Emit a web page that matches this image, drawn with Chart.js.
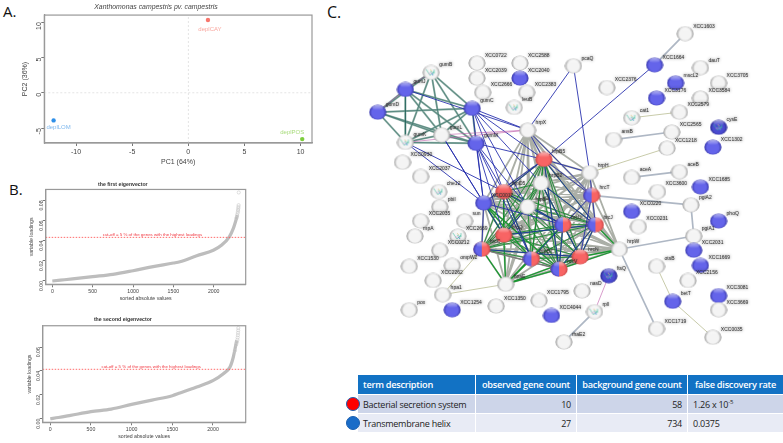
<!DOCTYPE html>
<html>
<head>
<meta charset="utf-8">
<script src="https://cdn.jsdelivr.net/npm/chart.js@4/dist/chart.umd.min.js"></script>
<style>
    html, body {margin: 0; padding: 0; background: #fff; width: 783px; height: 443px; overflow: hidden;}
    canvas {position: absolute; filter: blur(0.35px);}
    .letter {position: absolute; font-family: "Open Sans"; color: #111; line-height: 1;}
    .circle {position: absolute; width: 14px; height: 14px; border-radius: 50%; border: 1px solid #1a5fb0; box-sizing: border-box;}
    table {position: absolute; left: 357px; top: 374px; width: 423px; height: 59px; border-collapse: separate; border-spacing: 1px;
        font-family: "Open Sans"; font-size: 9px; letter-spacing: -0.25px; table-layout: fixed; color: #222;}
    th {background: #1272c4; color: #fff; font-weight: 600; font-size: 9.2px; padding: 0 5px; height: 19px; text-align: left; white-space: nowrap;}
    th.c {text-align: center; padding: 0;}
    td {padding: 0 5px; white-space: nowrap;}
    tr.odd td {background: #cdd5e9;}
    tr.even td {background: #e8ebf5;}
    td.n {text-align: right;}
    sup {font-size: 6px; line-height: 0;}
</style>
</head>
<body>
<div class="letter" style="left:3px;top:4px;font-size:15px">A.</div>
<div class="letter" style="left:9px;top:182px;font-size:15px">B.</div>
<div class="letter" style="left:327px;top:4px;font-size:16px">C.</div>
<canvas id="pcaChart" style="left:0;top:0" width="330" height="172"></canvas>
<canvas id="firstChart" style="left:0;top:177px" width="260" height="133"></canvas>
<canvas id="secondChart" style="left:0;top:312px" width="260" height="131"></canvas>
<canvas id="networkChart" style="left:340px;top:0" width="443" height="368"></canvas>
<table id="termTable"></table>
<div class="circle" style="left:346px;top:397px;background:#f00"></div>
<div class="circle" style="left:346px;top:416px;background:#1a6cc8"></div>
<script>
// PCA
const sampleNames = ['deplCAY', 'deplLOM', 'deplPOS'];
const samplePC1 = [1.75, -12.0, 10.15];
const samplePC2 = [10.3, -3.9, -6.55];
const sampleColors = ['#f8766d', '#2e8fe8', '#7ccd3c'];
const sampleLabelColors = ['#f9a79f', '#7fb8ee', '#a9dc7c'];

// loadings
const firstIndex = [0, 100, 250, 500, 750, 1000, 1250, 1500, 1581, 1789, 1995, 2099, 2193, 2243, 2276, 2293];
const firstValue = [0, 0.0008, 0.002, 0.0043, 0.0066, 0.0102, 0.0142, 0.0178, 0.0191, 0.0251, 0.0305, 0.0357, 0.0439, 0.0522, 0.0605, 0.0654];
const firstTailIndex = [2280, 2290, 2296, 2300, 2302, 2304, 2306, 2308, 2310];
const firstTailValue = [0.0625, 0.0655, 0.0674, 0.069, 0.0705, 0.072, 0.0735, 0.0753, 0.0879];
const firstCutoff = 0.0433;
const secondIndex = [0, 100, 250, 500, 750, 1000, 1250, 1500, 1594, 1800, 2004, 2127, 2209, 2250, 2271, 2291];
const secondValue = [0, 0.001, 0.0028, 0.0059, 0.0081, 0.012, 0.0156, 0.0193, 0.0215, 0.0265, 0.0321, 0.0377, 0.0433, 0.0517, 0.0586, 0.0656];
const secondTailIndex = [2270, 2285, 2295, 2300, 2303, 2306, 2308, 2310, 2311];
const secondTailValue = [0.057, 0.062, 0.064, 0.066, 0.068, 0.07, 0.072, 0.074, 0.076];
const secondCutoff = 0.0414;

// network, nodes
const nodeNames = ['gumB', 'gumJ', 'gumD', 'gumC', 'gumL', 'gumK', 'gumM', 'XCC0722', 'XCC2039', 'XCC2666', 'XCC2588', 'XCC2040', 'XCC2383', 'leuB', 'hrpX', 'hrpB5', 'XCC0930', 'XCC2037', 'pcaQ',
    'XCC1603', 'XCC1664', 'dauT', 'mscL2', 'XCC3705', 'XCC2376', 'XCC3176', 'XCC3584', 'XCC2579', 'cat1', 'cysE', 'XCC2565', 'ansB', 'XCC1218', 'XCC1302', 'hrpH', 'aceB', 'aceA',
    'XCC3600', 'XCC1685', 'pgiA2', 'XCC0220', 'phoQ', 'XCC0231', 'pgiA1', 'hrcT', 'hrcJ', 'hrpW', 'hrcN', 'XCC2031', 'XCC1669', 'otsB', 'XCC2156', 'ftsQ', 'nasD', 'betT', 'XCC3081', 'XCC3669', 'rpll', 'XCC1719', 'XCC0035', 'rhaE2',
    'che12', 'pbil', 'XCC0017', 'hrpD5', 'hrpB2', 'XCC2035', 'rnpA', 'sun', 'XCC2669', 'hrcQ', 'hrcU', 'hrcC', 'hrpB7', 'hrcV', 'hrpB4', 'XCC0212', 'XCC1530', 'ompW2', 'XCC2262', 'hpa1', 'hpaE', 'XCC1254', 'pox', 'XCC1350', 'XCC1795', 'XCC4044'];
const nodeX = [425, 398, 369, 468, 436, 398, 472, 473, 473, 479, 518, 518, 525, 512, 526, 543, 395, 414, 574,
    691, 659, 707, 681, 726, 609, 661, 707, 685, 635, 726, 677, 616, 672, 720, 591, 685, 635,
    662, 707, 697, 635, 726, 642, 700, 593, 597, 622, 581, 700, 707, 661, 694, 611, 583, 678, 726, 726, 596, 661, 720, 564,
    433, 434, 480, 501, 540, 414, 408, 460, 453, 501, 563, 478, 530, 559, 526, 434, 402, 447, 427, 437, 503, 447, 402, 493, 538, 551];
const nodeY = [66, 84, 108, 104, 132, 140, 141, 56, 72, 87, 56, 72, 87, 103, 127, 158, 161, 176, 59,
    25, 58, 61, 77, 77, 82, 93, 93, 108, 114, 124, 129, 137, 146, 145, 172, 171, 177,
    192, 187, 206, 213, 223, 229, 239, 196, 227, 253, 261, 254, 270, 271, 286, 281, 297, 308, 302, 317, 319, 337, 346, 351,
    192, 208, 204, 192, 183, 223, 239, 223, 239, 238, 227, 253, 263, 274, 208, 254, 271, 270, 286, 301, 290, 317, 317, 313, 307, 323];
const nodeKinds = ['t', 'b', 'b', 'b', 'w', 't', 'b', 'w', 'w', 'w', 'w', 'b', 'w', 't', 'w', 'r', 'w', 'w', 'w',
    'w', 'b', 'w', 'b', 'w', 'w', 'b', 'w', 'w', 't', 'c', 'w', 'w', 'w', 'b', 'w', 'w', 'w',
    'w', 'b', 'w', 'b', 'b', 'w', 'w', 'h', 'h', 'w', 'r', 'b', 'b', 'w', 'w', 'c', 'w', 'b', 'b', 'w', 't', 'w', 'w', 'w',
    't', 'w', 'b', 'r', 'w', 'w', 'w', 'w', 't', 'r', 'h', 'h', 'h', 'h', 'w', 'w', 'w', 'w', 'w', 'w', 'w', 'b', 'w', 'w', 'w', 'b'];

// network, edges
const gumGroup = ['gumB', 'gumJ', 'gumD', 'gumC', 'gumL', 'gumK', 'gumM'];
const hrpGroup = ['hrpX', 'hrpB5', 'hrpB2', 'hrpH', 'hrcT', 'hrpD5', 'XCC0017', 'hrpB4', 'hrcU', 'hrcJ', 'hrcQ', 'hrcC', 'hrpB7', 'hrcN', 'hrcV', 'hrpW', 'hpaE'];
const greenGroup = ['hrpB5', 'hrpD5', 'hrpB2', 'hrpB4', 'hrcU', 'hrcJ', 'hrcQ', 'hrcC', 'hrpB7', 'hrcN', 'hrcV'];
const greenEdges = [['hrcQ', 'hpaE'], ['hrpB7', 'hpaE'], ['hrcV', 'hpaE'], ['hrcC', 'hpaE'], ['hrcN', 'hpaE'], ['hrcU', 'hpaE'], ['hrcN', 'hrpW'], ['hrcV', 'hrpW'], ['hrcJ', 'hrpW'], ['XCC0017', 'hrcV'], ['XCC0017', 'hrpB7'], ['XCC0017', 'hrcQ']];
const blueEdges = [['hrpB5', 'hrcJ'], ['hrpB5', 'hrcV'], ['hrpB5', 'hrpD5'], ['hrpB5', 'XCC0017'], ['hrpB5', 'hrpH'], ['hrpB2', 'hrcJ'], ['hrpB2', 'hrcN'], ['hrpB4', 'hrcU'], ['hrpB4', 'hrcQ'], ['hrcU', 'hrcV'], ['hrcJ', 'hrcN'], ['hrcJ', 'hrcV'], ['hrcT', 'hrcN'], ['hrcT', 'hrpB7'], ['hrcT', 'hrpB5'], ['hrpD5', 'hrcU'], ['hrpD5', 'hrpB7'], ['hrcC', 'hrcN'], ['hrcQ', 'hrcJ'], ['XCC0017', 'hrcC'], ['XCC0017', 'hrcU'], ['gumM', 'hrpB5'], ['gumC', 'hrpB5'], ['gumJ', 'hrpX'], ['gumC', 'hrpX'], ['hrpB5', 'hrpX'], ['gumM', 'hrpD5'], ['gumM', 'XCC0017'], ['gumM', 'hrcQ'], ['gumM', 'hrpB4'], ['gumM', 'hrpB7'], ['gumC', 'hrpD5'], ['gumC', 'hrpB2'], ['gumC', 'XCC0017'], ['gumK', 'XCC0017'], ['gumK', 'hrpD5'], ['gumL', 'XCC0017'], ['gumL', 'hrcQ'], ['gumC', 'hrpB4'], ['hrpX', 'pcaQ'], ['pcaQ', 'hrpH'], ['hrpB5', 'XCC1664'], ['hrpH', 'hrcJ'], ['hrpX', 'hrcT']];
const pinkEdges = [['gumK', 'hrpX'], ['gumL', 'hrpX'], ['gumJ', 'gumB'], ['gumD', 'gumJ'], ['hrcC', 'hrcV'], ['ftsQ', 'rpll']];
const thickEdges = [['XCC1603', 'XCC1664'], ['ansB', 'XCC2565'], ['aceA', 'aceB'], ['pgiA2', 'pgiA1'], ['pgiA1', 'hrpW'], ['hrpW', 'XCC1719'], ['rpll', 'rhaE2'], ['hrcT', 'pgiA2']];
const thinEdges = [['cat1', 'XCC2579'], ['otsB', 'betT'], ['betT', 'XCC0035'], ['hpaE', 'hpa1'], ['hrcC', 'hpa1'], ['XCC1218', 'hrpH']];

// table
const termNames = ['Bacterial secretion system', 'Transmembrane helix'];
const observedCounts = [10, 27];
const backgroundCounts = [58, 734];
const fdrValues = ['1.26 x 10<sup>-5</sup>', '0.0375'];
const tableHeaders = ['term description', 'observed gene count', 'background gene count', 'false discovery rate'];

const sansFont = '"Liberation Sans"';

// text marks drawn through the chart's own scales
const textMarks = {
    id: 'textMarks',
    afterDatasetsDraw(chart, args, opts) {
        const {ctx, scales: {x, y}} = chart;
        ctx.save();
        (opts.items || []).forEach(item => {
            ctx.font = `${item.size}px ${sansFont}`;
            ctx.fillStyle = item.color || '#222';
            ctx.textAlign = item.align || 'center';
            ctx.textBaseline = 'middle';
            if (item.halo) {
                ctx.shadowColor = 'rgba(0,0,0,0.7)';
                ctx.shadowBlur = 3;
            } else {
                ctx.shadowBlur = 0;
            }
            ctx.fillText(item.text, x.getPixelForValue(item.x) + (item.dx || 0), y.getPixelForValue(item.y) + (item.dy || 0));
        });
        ctx.restore();
    }
};
Chart.register(textMarks);

// closes the R box on the top and right
const boxPlugin = {
    id: 'boxPlugin',
    afterDraw(chart) {
        const {ctx, chartArea: a} = chart;
        ctx.save();
        ctx.strokeStyle = '#999';
        ctx.lineWidth = 1.2;
        ctx.strokeRect(a.left, a.top, a.right - a.left, a.bottom - a.top);
        ctx.restore();
    }
};

const axisColor = '#444';

function rAxes(o) {
    // R style box, outward ticks
    const grid = {drawOnChartArea: false, drawTicks: true, tickLength: 3, color: '#777'};
    return {
        x: {
            type: 'linear', min: o.xmin, max: o.xmax,
            afterFit: s => { s.height = o.bottom; },
            afterBuildTicks: s => { s.ticks = o.xticks.map(v => ({value: v})); },
            grid: grid, border: {color: '#999', width: 1.2},
            ticks: {color: axisColor, font: {size: o.font, family: sansFont}, padding: o.xpad, maxRotation: 0, autoSkip: false, callback: v => v},
            title: {display: true, text: o.xtitle, color: axisColor, font: {size: o.font, family: sansFont}, padding: {top: 0, bottom: o.xtitlePad}}
        },
        y: {
            type: 'linear', min: o.ymin, max: o.ymax,
            afterFit: s => { s.width = o.left; },
            afterBuildTicks: s => { s.ticks = o.yticks.map(v => ({value: v})); },
            grid: grid, border: {color: '#999', width: 1.2},
            ticks: {color: axisColor, font: {size: o.font, family: sansFont}, padding: o.ypad, minRotation: 90, maxRotation: 90, autoSkip: false, callback: o.yformat},
            title: {display: true, text: o.ytitle, color: axisColor, font: {size: o.font, family: sansFont}, padding: {top: o.ytitlePad, bottom: 0}}
        }
    };
}

// first dataset in the list is painted on top
new Chart(document.getElementById('pcaChart'), {
    type: 'scatter',
    plugins: [boxPlugin],
    data: {
        datasets: [
            {data: samplePC1.map((x, i) => ({x: x, y: samplePC2[i]})), pointBackgroundColor: sampleColors, pointBorderWidth: 0, pointRadius: 2.2},
            {data: [{x: -12.83, y: 0}, {x: 11.02, y: 0}], showLine: true, borderColor: '#ddd', borderWidth: 0.8, borderDash: [2, 2], pointRadius: 0},
            {data: [{x: 0, y: -7.1}, {x: 0, y: 11}], showLine: true, borderColor: '#ddd', borderWidth: 0.8, borderDash: [2, 2], pointRadius: 0}
        ]
    },
    options: {
        responsive: false, animation: false,
        layout: {padding: {right: 18}},
        plugins: {
            legend: {display: false}, tooltip: {enabled: false},
            title: {display: true, text: 'Xanthomonas campestris pv. campestris', color: '#444', font: {size: 6.9, style: 'italic', weight: 'normal', family: sansFont}, padding: {top: 3, bottom: 3.8}},
            textMarks: {
                items: sampleNames.map((name, i) => ({
                    text: name, x: samplePC1[i], y: samplePC2[i], size: 6, color: sampleLabelColors[i],
                    dx: [2, 5, -10][i], dy: [9, 7, -7][i]
                }))
            }
        },
        scales: rAxes({
            xmin: -12.83, xmax: 11.02, ymin: -7.1, ymax: 11,
            xticks: [-10, -5, 0, 5, 10], yticks: [-5, 0, 5, 10],
            left: 44.3, bottom: 29, font: 7, xpad: 2, ypad: 2, xtitlePad: 6, ytitlePad: 21,
            xtitle: 'PC1 (64%)', ytitle: 'PC2 (36%)', yformat: v => v
        })
    }
});

function loadingChart(id, title, index, value, tailIndex, tailValue, cutoff, o) {
    return new Chart(document.getElementById(id), {
        type: 'scatter',
        plugins: [boxPlugin],
        data: {
            datasets: [
                {data: [{x: o.xmin, y: cutoff}, {x: o.xmax, y: cutoff}], showLine: true, borderColor: '#ff5a5a', borderWidth: 0.9, borderDash: [1.5, 1.5], pointRadius: 0},
                {data: tailIndex.map((x, i) => ({x: x, y: tailValue[i]})), pointBackgroundColor: 'rgba(0,0,0,0)', pointBorderColor: '#c9c9c9', pointBorderWidth: 0.6, pointRadius: 1.6},
                {data: index.map((x, i) => ({x: x, y: value[i]})), showLine: true, borderColor: '#bdbdbd', borderWidth: 3.2, pointRadius: 0, cubicInterpolationMode: 'monotone'}
            ]
        },
        options: {
            responsive: false, animation: false,
            layout: {padding: {right: 14.3}},
            plugins: {
                legend: {display: false}, tooltip: {enabled: false},
                title: {display: true, text: title, color: '#333', font: {size: 5.2, weight: 'bold', family: sansFont}, padding: {top: o.titleTop, bottom: o.titleBottom}},
                textMarks: {
                    items: [{text: 'cut-off = 5 % of the genes with the highest loadings', x: 1240, y: cutoff, dy: -2.6, size: 4.4, color: '#f0353f'}]
                }
            },
            scales: rAxes(o)
        }
    });
}

loadingChart('firstChart', 'the first eigenvector', firstIndex, firstValue, firstTailIndex, firstTailValue, firstCutoff, {
    xmin: -82, xmax: 2396, ymin: -0.0033, ymax: 0.0909,
    xticks: [0, 500, 1000, 1500, 2000], yticks: [0, 0.02, 0.04, 0.06, 0.08],
    left: 45.7, bottom: 25.7, font: 5.2, xpad: 1, ypad: 1, xtitlePad: 8, ytitlePad: 28, titleTop: 4.2, titleBottom: 2,
    xtitle: 'sorted absolute values', ytitle: 'variable loadings', yformat: v => v.toFixed(2)
});
loadingChart('secondChart', 'the second eigenvector', secondIndex, secondValue, secondTailIndex, secondTailValue, secondCutoff, {
    xmin: -93, xmax: 2402, ymin: -0.003, ymax: 0.0779,
    xticks: [0, 500, 1000, 1500, 2000], yticks: [0, 0.02, 0.04, 0.06],
    left: 42.7, bottom: 20.7, font: 5.2, xpad: 1, ypad: 1, xtitlePad: 3, ytitlePad: 26, titleTop: 4.7, titleBottom: 2.8,
    xtitle: 'sorted absolute values', ytitle: 'variable loadings', yformat: v => v.toFixed(2)
});

// string-db style balls used as point styles
const ballColors = {
    w: ['#f4f4f4', '#909090'],
    b: ['#6464ea', '#3434a0'],
    c: ['#4a4ad0', '#222280'],
    r: ['#f86464', '#c04444'],
    t: ['#f4f4f4', '#989898']
};
const textureColors = ['#3cbfa0', '#d79ad0', '#e0c070', '#4aa0d0', '#3cbfa0'];

function ball(kind) {
    const c = document.createElement('canvas');
    c.width = 18;
    c.height = 16;
    const ctx = c.getContext('2d');
    const paint = (colors) => {
        const g = ctx.createRadialGradient(9, 9, 1, 9, 8, 9);
        g.addColorStop(0, colors[0]);
        g.addColorStop(0.6, colors[0]);
        g.addColorStop(1, colors[1]);
        ctx.fillStyle = g;
        ctx.fillRect(0, 0, 18, 16);
    };
    ctx.beginPath();
    ctx.ellipse(9, 8, 8.6, 7.6, 0, 0, Math.PI * 2);
    ctx.clip();
    if (kind === 'h') {
        paint(ballColors.r);
        ctx.save();
        ctx.beginPath();
        ctx.rect(0, 0, 9, 16);
        ctx.clip();
        paint(ballColors.b);
        ctx.restore();
    } else {
        paint(ballColors[kind]);
    }
    if (kind === 't' || kind === 'c') {
        ctx.lineWidth = 0.6;
        textureColors.forEach((color, i) => {
            ctx.strokeStyle = color;
            ctx.beginPath();
            ctx.moveTo(4 + i * 2, 5 + (i % 2) * 4);
            ctx.lineTo(8 + i, 11 - (i % 3) * 2);
            ctx.lineTo(12 - i, 7 + (i % 2) * 2);
            ctx.stroke();
        });
    }
    const h = ctx.createLinearGradient(0, 0, 0, 6);
    h.addColorStop(0, 'rgba(255,255,255,0.6)');
    h.addColorStop(1, 'rgba(255,255,255,0)');
    ctx.fillStyle = h;
    ctx.beginPath();
    ctx.ellipse(9, 3.4, 5.4, 2.8, 0, 0, Math.PI * 2);
    ctx.fill();
    return c;
}

const ballStyles = {};
Object.keys(ballColors).concat('h').forEach(k => { ballStyles[k] = ball(k); });

function nodePoint(name) {
    const i = nodeNames.indexOf(name);
    return {x: nodeX[i], y: nodeY[i]};
}

function edgeData(edges) {
    const data = [];
    edges.forEach(e => data.push(nodePoint(e[0]), nodePoint(e[1]), {x: NaN, y: NaN}));
    return data;
}

function allPairs(group) {
    const pairs = [];
    group.forEach((a, i) => group.slice(i + 1).forEach(b => pairs.push([a, b])));
    return pairs;
}

function edgeSet(edges, color, width) {
    return {data: edgeData(edges), showLine: true, borderColor: color, borderWidth: width, pointRadius: 0, spanGaps: false};
}

new Chart(document.getElementById('networkChart'), {
    type: 'scatter',
    data: {
        datasets: [
            {data: nodeNames.map(nodePoint), pointStyle: nodeKinds.map(k => ballStyles[k]), pointRadius: 9},
            edgeSet(pinkEdges, 'rgba(190,90,170,0.75)', 0.8),
            edgeSet(blueEdges, 'rgba(30,40,170,0.85)', 1),
            edgeSet(greenEdges, '#1a9a32', 1.3),
            edgeSet(allPairs(greenGroup), 'rgba(20,140,45,0.85)', 1),
            edgeSet(thinEdges, '#b0b585', 0.7),
            edgeSet(allPairs(gumGroup), 'rgba(25,95,85,0.75)', 0.6),
            edgeSet(thickEdges, 'rgba(165,175,190,0.9)', 1.7),
            edgeSet(allPairs(gumGroup), 'rgba(130,165,155,0.9)', 2),
            edgeSet(allPairs(hrpGroup), 'rgba(150,155,145,0.8)', 1.8)
        ]
    },
    options: {
        responsive: false, animation: false,
        layout: {padding: 0},
        plugins: {
            legend: {display: false}, tooltip: {enabled: false},
            textMarks: {
                items: nodeNames.map((name, i) => ({text: name, x: nodeX[i], y: nodeY[i], dx: 8, dy: -7.5, size: 5, align: 'left', color: '#333', halo: true}))
            }
        },
        scales: {
            x: {type: 'linear', display: false, min: 340, max: 783},
            y: {type: 'linear', display: false, min: 0, max: 368, reverse: true}
        }
    }
});

const rows = [`<tr>${tableHeaders.map((h, i) => `<th class="${i ? 'c' : ''}">${h}</th>`).join('')}</tr>`];
termNames.forEach((term, i) => {
    rows.push(`<tr class="${i % 2 ? 'even' : 'odd'}"><td>${term}</td><td class="n">${observedCounts[i]}</td><td class="n">${backgroundCounts[i]}</td><td>${fdrValues[i]}</td></tr>`);
});
const table = document.getElementById('termTable');
table.innerHTML = '<colgroup><col style="width:117px"><col style="width:100px"><col style="width:110px"><col style="width:95px"></colgroup>' + rows.join('');
</script>
</body>
</html>
